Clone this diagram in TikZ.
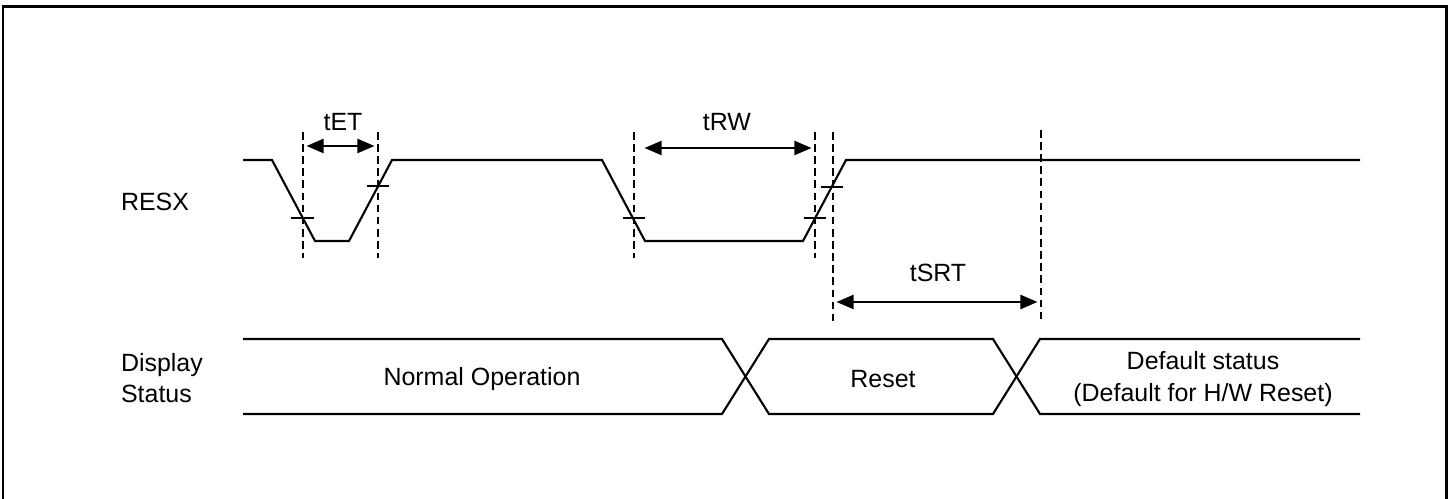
\documentclass[tikz,border=0pt]{standalone}
\usepackage{fontspec}
\setmainfont{Liberation Sans}
\usetikzlibrary{arrows.meta}

\begin{document}
\begin{tikzpicture}[x=0.02cm, y=-0.02cm, line width=1.2pt,
    every node/.style={font=\fontsize{14.2}{18}\selectfont, inner sep=0pt},
    guide/.style={dash pattern=on 4.3pt off 2.6pt, line width=1.2pt},
    timing/.style={{Triangle[length=0.34cm,width=0.28cm]}-{Triangle[length=0.34cm,width=0.28cm]}, line width=1.2pt, shorten <=2pt, shorten >=2pt}]
    \useasboundingbox (0,0) rectangle (1451,499);
    % Khung
    \draw[line width=1.7pt] (3,499) -- (3,7) -- (1446,7) -- (1446,499);

    % Nhan tin hieu
    \node[anchor=west] (resx) at (120,202) {RESX};
    \node[anchor=west, align=left] (disp) at (120,378) {Display\\Status};

    % Tin hieu RESX
    \draw (243,160) -- (272,160) -- (315,241) -- (349,241) -- (392,160) -- (602,160)
          -- (645,241) -- (803,241) -- (846,160) -- (1360,160);

    % Vach danh dau muc
    \draw (291,218) -- (314,218);
    \draw (367,186) -- (389,186);
    \draw (623,218) -- (645,218);
    \draw (804,218) -- (826,218);
    \draw (821,187) -- (843,187);

    % Duong gioi han (net dut)
    \coordinate (e1) at (303,146);
    \coordinate (e2) at (378,146);
    \coordinate (w1) at (634,148);
    \coordinate (w2) at (815,148);
    \coordinate (s1) at (833,302);
    \coordinate (s2) at (1041,302);
    \draw[guide] (303,132) -- (303,258);
    \draw[guide] (378,132) -- (378,258);
    \draw[guide] (634,132) -- (634,258);
    \draw[guide] (815,132) -- (815,258);
    \draw[guide] (833,132) -- (833,323);
    \draw[guide] (1041,130) -- (1041,323);

    % Khoang thoi gian
    \draw[timing] (e1) -- (e2);
    \draw[timing, shorten <=6pt] (w1) -- (w2);
    \draw[timing] (s1) -- (s2);
    \node (tet) at (343,122) {tET};
    \node (trw) at (727,122) {tRW};
    \node (tsrt) at (938,273) {tSRT};

    % Trang thai hien thi
    \draw (243,339) -- (722,339) -- (769,414) -- (993,414) -- (1040,339) -- (1360,339);
    \draw (243,414) -- (722,414) -- (769,339) -- (993,339) -- (1040,414) -- (1360,414);
    \node (normal) at (482,379) {Normal Operation};
    \node (reset) at (883,379) {Reset};
    \node[align=center] (default) at (1203,379) {Default status\\(Default for H/W Reset)};
\end{tikzpicture}
\end{document}
